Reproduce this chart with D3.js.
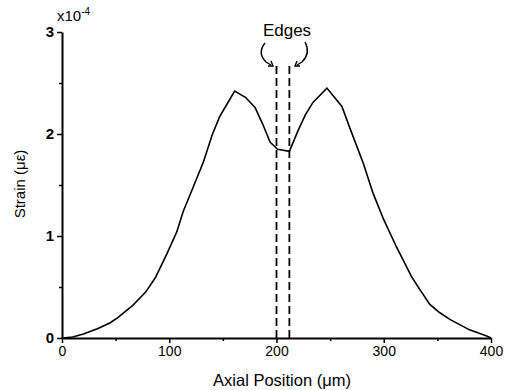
<!DOCTYPE html>
<html><head><meta charset="utf-8">
<script src="https://cdn.jsdelivr.net/npm/d3@7"></script>
<style>body{margin:0;background:#fff}text{font-family:"Liberation Sans",Arial,sans-serif;fill:#000}</style>
</head><body><svg id="c" width="506" height="390"></svg>
<script>
const positions = [0,10,20,33,45,52,66,78,87,98,107,113,122,132,140,147,152,161,171,180,187,194,201,212,220,227,234,247,254,261,268,281,290,300,312,326,334,343,352,362,380,396,400];
const strain = [0,0.01,0.04,0.09,0.15,0.2,0.32,0.45,0.59,0.83,1.04,1.24,1.47,1.73,1.99,2.17,2.26,2.42,2.36,2.26,2.1,1.92,1.85,1.83,2.03,2.19,2.31,2.45,2.36,2.27,2.07,1.71,1.42,1.16,0.89,0.6,0.47,0.33,0.25,0.18,0.08,0.02,0];
const edges = [200,212];
const xTicks = [0,100,200,300,400];
const yTicks = [0,1,2,3];

const svg = d3.select("#c");
const x = d3.scaleLinear().domain([0,400]).range([62,491]);
const y = d3.scaleLinear().domain([0,3]).range([338,32]);

const gx = svg.append("g").attr("transform","translate(0,338)");
gx.call(d3.axisBottom(x).tickValues(d3.range(50,400,100)).tickSize(3).tickFormat(""));
gx.call(g=>g.select(".domain").remove());
const gxM = svg.append("g").attr("transform","translate(0,338)")
  .call(d3.axisBottom(x).tickValues(xTicks).tickFormat(d3.format("d")).tickSize(5).tickSizeOuter(0).tickPadding(3));
gxM.selectAll("text").attr("font-size",14);

const gy = svg.append("g").attr("transform","translate(62,0)");
gy.call(d3.axisLeft(y).tickValues([0.5,1.5,2.5]).tickSize(3).tickFormat(""));
gy.call(g=>g.select(".domain").remove());
const gyM = svg.append("g").attr("transform","translate(62,0)")
  .call(d3.axisLeft(y).tickValues(yTicks).tickFormat(d3.format("d")).tickSize(5).tickSizeOuter(0).tickPadding(3));
gyM.selectAll("text").attr("font-size",15).attr("font-weight","bold");
svg.selectAll(".domain").attr("stroke-width",2);
svg.selectAll(".tick line").attr("stroke-width",1.5);

svg.append("text").attr("x",57).attr("y",21).attr("font-size",15).text("x10").append("tspan").attr("dy",-6).attr("font-size",10).text("-4");

edges.forEach(e=>{
  svg.append("line").attr("x1",x(e)).attr("x2",x(e)).attr("y1",y(0)).attr("y2",66)
    .attr("stroke","#000").attr("stroke-width",1.8).attr("stroke-dasharray","8,4");
});

const line = d3.line().x((d,i)=>x(positions[i])).y(d=>y(d));
svg.append("path").datum(strain).attr("d",line).attr("fill","none").attr("stroke","#000").attr("stroke-width",1.6);

svg.append("text").attr("x",287).attr("y",36).attr("text-anchor","middle").attr("font-size",17).text("Edges");
svg.append("path").attr("d","M265,43 Q257,53 266,62 L271,65").attr("fill","none").attr("stroke","#000").attr("stroke-width",1.4);
svg.append("path").attr("d","M268,66 L273,66 L271,61").attr("fill","none").attr("stroke","#000").attr("stroke-width",1.4);
svg.append("path").attr("d","M305,42 Q311,53 302,62 L297,65").attr("fill","none").attr("stroke","#000").attr("stroke-width",1.4);
svg.append("path").attr("d","M300,66 L295,66 L297,61").attr("fill","none").attr("stroke","#000").attr("stroke-width",1.4);

svg.append("text").attr("x",282).attr("y",386).attr("text-anchor","middle").attr("font-size",16.5).text("Axial Position (μm)");
svg.append("text").attr("transform","translate(25,184) rotate(-90)").attr("text-anchor","middle").attr("font-size",15).text("Strain (με)");
</script></body></html>
